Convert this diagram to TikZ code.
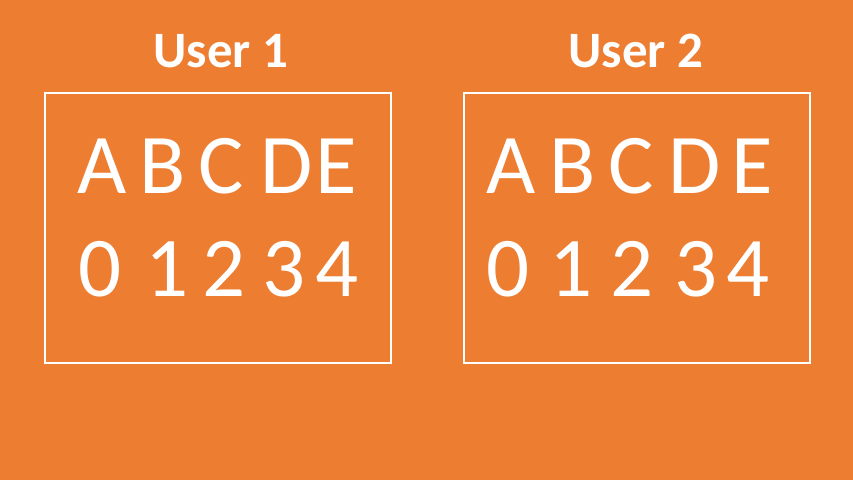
\documentclass[tikz,border=0pt]{standalone}
\usepackage{fontspec}
\setmainfont{Carlito}
\definecolor{slideorange}{HTML}{ED7D31}

\begin{document}
\begin{tikzpicture}[x=1pt,y=-1pt,
  title/.style={text=white,inner sep=0,anchor=base,font=\fontsize{51}{60}\selectfont\bfseries},
  glyph/.style={text=white,inner sep=0,anchor=base,font=\fontsize{85}{100}\selectfont},
  box/.style={draw=white,line width=2pt,minimum width=346pt,minimum height=270pt,inner sep=0}]
\fill[slideorange] (0,0) rectangle (853,480);
\useasboundingbox (0,0) rectangle (853,480);

\node[title] (u1) at (221,67) {User 1};
\node[title] (u2) at (636,67) {User 2};

\node[box] (b1) at (218,228) {};
\node[box] (b2) at (637,228) {};

% user 1
\node[glyph] (a1) at (102,193) {A};
\node[glyph] (b1l) at (163,193) {B};
\node[glyph] (c1) at (221,193) {C};
\node[glyph] (d1) at (287,193) {D};
\node[glyph] (e1) at (336,193) {E};
\node[glyph] (n01) at (100,296) {0};
\node[glyph] (n11) at (167,296) {1};
\node[glyph] (n21) at (224,296) {2};
\node[glyph] (n31) at (284,296) {3};
\node[glyph] (n41) at (337,296) {4};

% user 2
\node[glyph] (a2) at (511,193) {A};
\node[glyph] (b2l) at (573,193) {B};
\node[glyph] (c2) at (631,193) {C};
\node[glyph] (d2) at (695,193) {D};
\node[glyph] (e2) at (752,193) {E};
\node[glyph] (n02) at (508,296) {0};
\node[glyph] (n12) at (571,296) {1};
\node[glyph] (n22) at (632,296) {2};
\node[glyph] (n32) at (696,296) {3};
\node[glyph] (n42) at (748,296) {4};
\end{tikzpicture}
\end{document}
